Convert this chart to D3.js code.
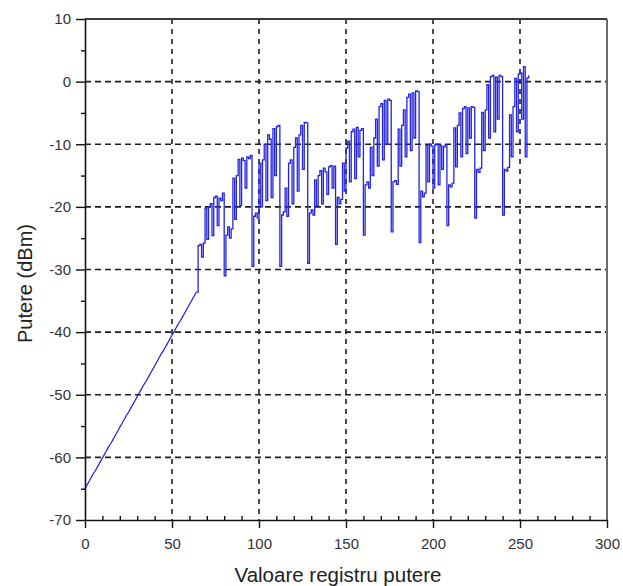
<!DOCTYPE html>
<html>
<head>
<meta charset="utf-8">
<script src="https://cdn.jsdelivr.net/npm/d3@7"></script>
<style>
  body { margin: 0; background: #ffffff; }
  svg { display: block; }
  text { font-family: "Liberation Sans", Arial, Helvetica, sans-serif; }
</style>
</head>
<body>
<svg id="chart" width="623" height="586"></svg>
<script>
// Register codes 0..255 and the measured output power for each code (dBm)
const registerCodes = d3.range(256);

const powerLinear = [
  -65.0, -64.5, -64.0, -63.5, -63.0, -62.5, -62.1, -61.6, -61.1, -60.6,
  -60.1, -59.6, -59.1, -58.6, -58.1, -57.7, -57.2, -56.7, -56.2, -55.7,
  -55.2, -54.7, -54.2, -53.7, -53.2, -52.8, -52.3, -51.8, -51.3, -50.8,
  -50.3, -49.8, -49.3, -48.8, -48.3, -47.9, -47.4, -46.9, -46.4, -45.9,
  -45.4, -44.9, -44.4, -43.9, -43.4, -43.0, -42.5, -42.0, -41.5, -41.0,
  -40.5, -40.0, -39.5, -39.0, -38.5, -38.1, -37.6, -37.1, -36.6, -36.1,
  -35.6, -35.1, -34.6, -34.1, -33.6
];

const powerStepped = [
  // 65..79
  -26.2, -26.0, -28.0, -25.8, -20.2, -25.2, -20.0, -19.5, -24.6, -18.5, -18.3, -23.0, -18.6, -19.0, -17.8,
  // 80..95
  -31.0, -24.5, -23.2, -25.0, -23.5, -15.4, -22.0, -15.0, -12.4, -19.8, -12.2, -12.6, -17.0, -12.0, -12.3, -11.8,
  // 96..111
  -29.5, -21.5, -21.0, -21.8, -13.0, -20.0, -12.5, -10.0, -19.0, -8.5, -9.2, -18.5, -7.5, -15.0, -7.2, -7.0,
  // 112..127
  -29.5, -21.3, -20.8, -17.0, -21.5, -13.0, -12.5, -19.5, -10.5, -9.0, -17.5, -8.5, -7.0, -14.0, -6.5, -6.6,
  // 128..143
  -29.0, -21.0, -20.5, -21.3, -15.7, -19.8, -15.0, -14.2, -19.5, -13.8, -14.4, -18.0, -13.6, -13.4, -17.0, -13.5,
  // 144..159
  -26.0, -18.5, -19.5, -18.8, -13.0, -17.5, -10.6, -9.5, -16.0, -8.0, -7.6, -15.5, -7.3, -12.0, -7.8, -7.5,
  // 160..175
  -24.5, -16.5, -16.0, -17.0, -10.5, -15.0, -9.0, -6.0, -13.5, -4.0, -3.5, -12.5, -3.0, -10.0, -2.8, -3.0,
  // 176..191
  -24.0, -16.0, -15.8, -16.4, -7.6, -13.5, -7.0, -4.5, -12.0, -2.5, -2.0, -11.0, -1.8, -9.0, -1.5, -1.6,
  // 192..207
  -25.7, -17.5, -18.4, -17.8, -10.2, -16.0, -10.0, -10.3, -17.0, -10.1, -10.0, -16.5, -10.2, -14.0, -10.4, -10.1,
  // 208..223
  -23.0, -16.5, -16.8, -16.2, -7.4, -13.6, -7.0, -5.0, -12.0, -4.3, -4.0, -11.5, -4.2, -9.0, -4.0, -4.1,
  // 224..239
  -21.8, -14.0, -14.5, -13.8, -4.9, -11.0, -4.5, -0.5, -9.0, 0.8, 1.0, -8.0, 0.7, -6.0, 1.0, 0.8,
  // 240..255
  -21.3, -14.0, -14.3, -13.7, -5.3, -12.0, -4.0, 0.5, -8.0, 1.2, 1.4, -6.0, 2.4, -12.0, 0.6, 1.0
];

const powerDbm = powerLinear.concat(powerStepped);

const xTickValues = [0, 50, 100, 150, 200, 250, 300];
const yTickValues = [10, 0, -10, -20, -30, -40, -50, -60, -70];
const xMinorValues = [10, 20, 30, 40, 60, 70, 80, 90, 110, 120, 130, 140, 160, 170, 180, 190, 210, 220, 230, 240, 260, 270, 280, 290];
const yMinorValues = [5, -5, -15, -25, -35, -45, -55, -65];

const xTitle = "Valoare registru putere";
const yTitle = "Putere (dBm)";

// Layout
const svg = d3.select("#chart");
const margin = { left: 85, top: 19, right: 16, bottom: 66 };
const W = 623, H = 586;
const pw = W - margin.left - margin.right;
const ph = H - margin.top - margin.bottom;

const x = d3.scaleLinear().domain([0, 300]).range([0, pw]);
const y = d3.scaleLinear().domain([-70, 10]).range([ph, 0]);

const g = svg.append("g").attr("transform", `translate(${margin.left},${margin.top})`);

// Dashed grid
g.append("g").selectAll("line")
  .data(yTickValues.filter(v => v > -70 && v < 10))
  .join("line")
  .attr("x1", 0).attr("x2", pw)
  .attr("y1", d => y(d)).attr("y2", d => y(d))
  .attr("stroke", "#1e1e1e").attr("stroke-width", 1.6)
  .attr("stroke-dasharray", "6,4");

g.append("g").selectAll("line")
  .data(xTickValues.filter(v => v > 0 && v < 300))
  .join("line")
  .attr("y1", 0).attr("y2", ph)
  .attr("x1", d => x(d)).attr("x2", d => x(d))
  .attr("stroke", "#1e1e1e").attr("stroke-width", 1.6)
  .attr("stroke-dasharray", "5,5");

// Frame: top and right sides
g.append("line").attr("x1", 0).attr("x2", pw).attr("y1", 0).attr("y2", 0)
  .attr("stroke", "#3a3a3a").attr("stroke-width", 2);
g.append("line").attr("x1", pw).attr("x2", pw).attr("y1", 0).attr("y2", ph)
  .attr("stroke", "#6a6a6a").attr("stroke-width", 2);

// Power curve: straight ramp for the low codes, held steps after code 64
const points = powerDbm.map((v, i) => [registerCodes[i], v]);
const ramp = points.slice(0, 65);
const steps = points.slice(64);

g.append("path")
  .datum(ramp)
  .attr("fill", "none")
  .attr("stroke", "#1a1ae6")
  .attr("stroke-width", 1.2)
  .attr("d", d3.line().x(d => x(d[0])).y(d => y(d[1])));

g.append("path")
  .datum(steps)
  .attr("fill", "none")
  .attr("stroke", "#2424e0")
  .attr("stroke-width", 1.3)
  .attr("d", d3.line().curve(d3.curveStepAfter).x(d => x(d[0])).y(d => y(d[1])));

// Axes
const xAxis = g.append("g").attr("transform", `translate(0,${ph})`)
  .call(d3.axisBottom(x).tickValues(xTickValues).tickFormat(d3.format("d"))
    .tickSize(8).tickSizeOuter(0).tickPadding(10));
const yAxis = g.append("g")
  .call(d3.axisLeft(y).tickValues(yTickValues).tickFormat(d => String(d))
    .tickSize(9).tickSizeOuter(0).tickPadding(5));

// Minor ticks
g.append("g").attr("transform", `translate(0,${ph})`)
  .call(d3.axisTop(x).tickValues(xMinorValues).tickFormat("").tickSize(4).tickSizeOuter(0))
  .call(s => s.select(".domain").remove());
g.append("g")
  .call(d3.axisLeft(y).tickValues(yMinorValues).tickFormat("").tickSize(4).tickSizeOuter(0))
  .call(s => s.select(".domain").remove());

g.selectAll(".domain").attr("stroke", "#111").attr("stroke-width", 1.6);
g.selectAll(".tick line").attr("stroke", "#111").attr("stroke-width", 1.4);
[xAxis, yAxis].forEach(a => a.selectAll("text")
  .attr("fill", "#333").style("font-size", "15px")
  .style("font-family", "'Liberation Sans', Arial, sans-serif"));

// Axis titles
svg.append("text")
  .attr("x", margin.left + pw / 2 - 8)
  .attr("y", 582)
  .attr("text-anchor", "middle")
  .attr("fill", "#222")
  .style("font-size", "20.5px")
  .text(xTitle);

svg.append("text")
  .attr("transform", `translate(32,${margin.top + ph / 2 + 14}) rotate(-90)`)
  .attr("text-anchor", "middle")
  .attr("fill", "#222")
  .style("font-size", "20px")
  .text(yTitle);
</script>
</body>
</html>
